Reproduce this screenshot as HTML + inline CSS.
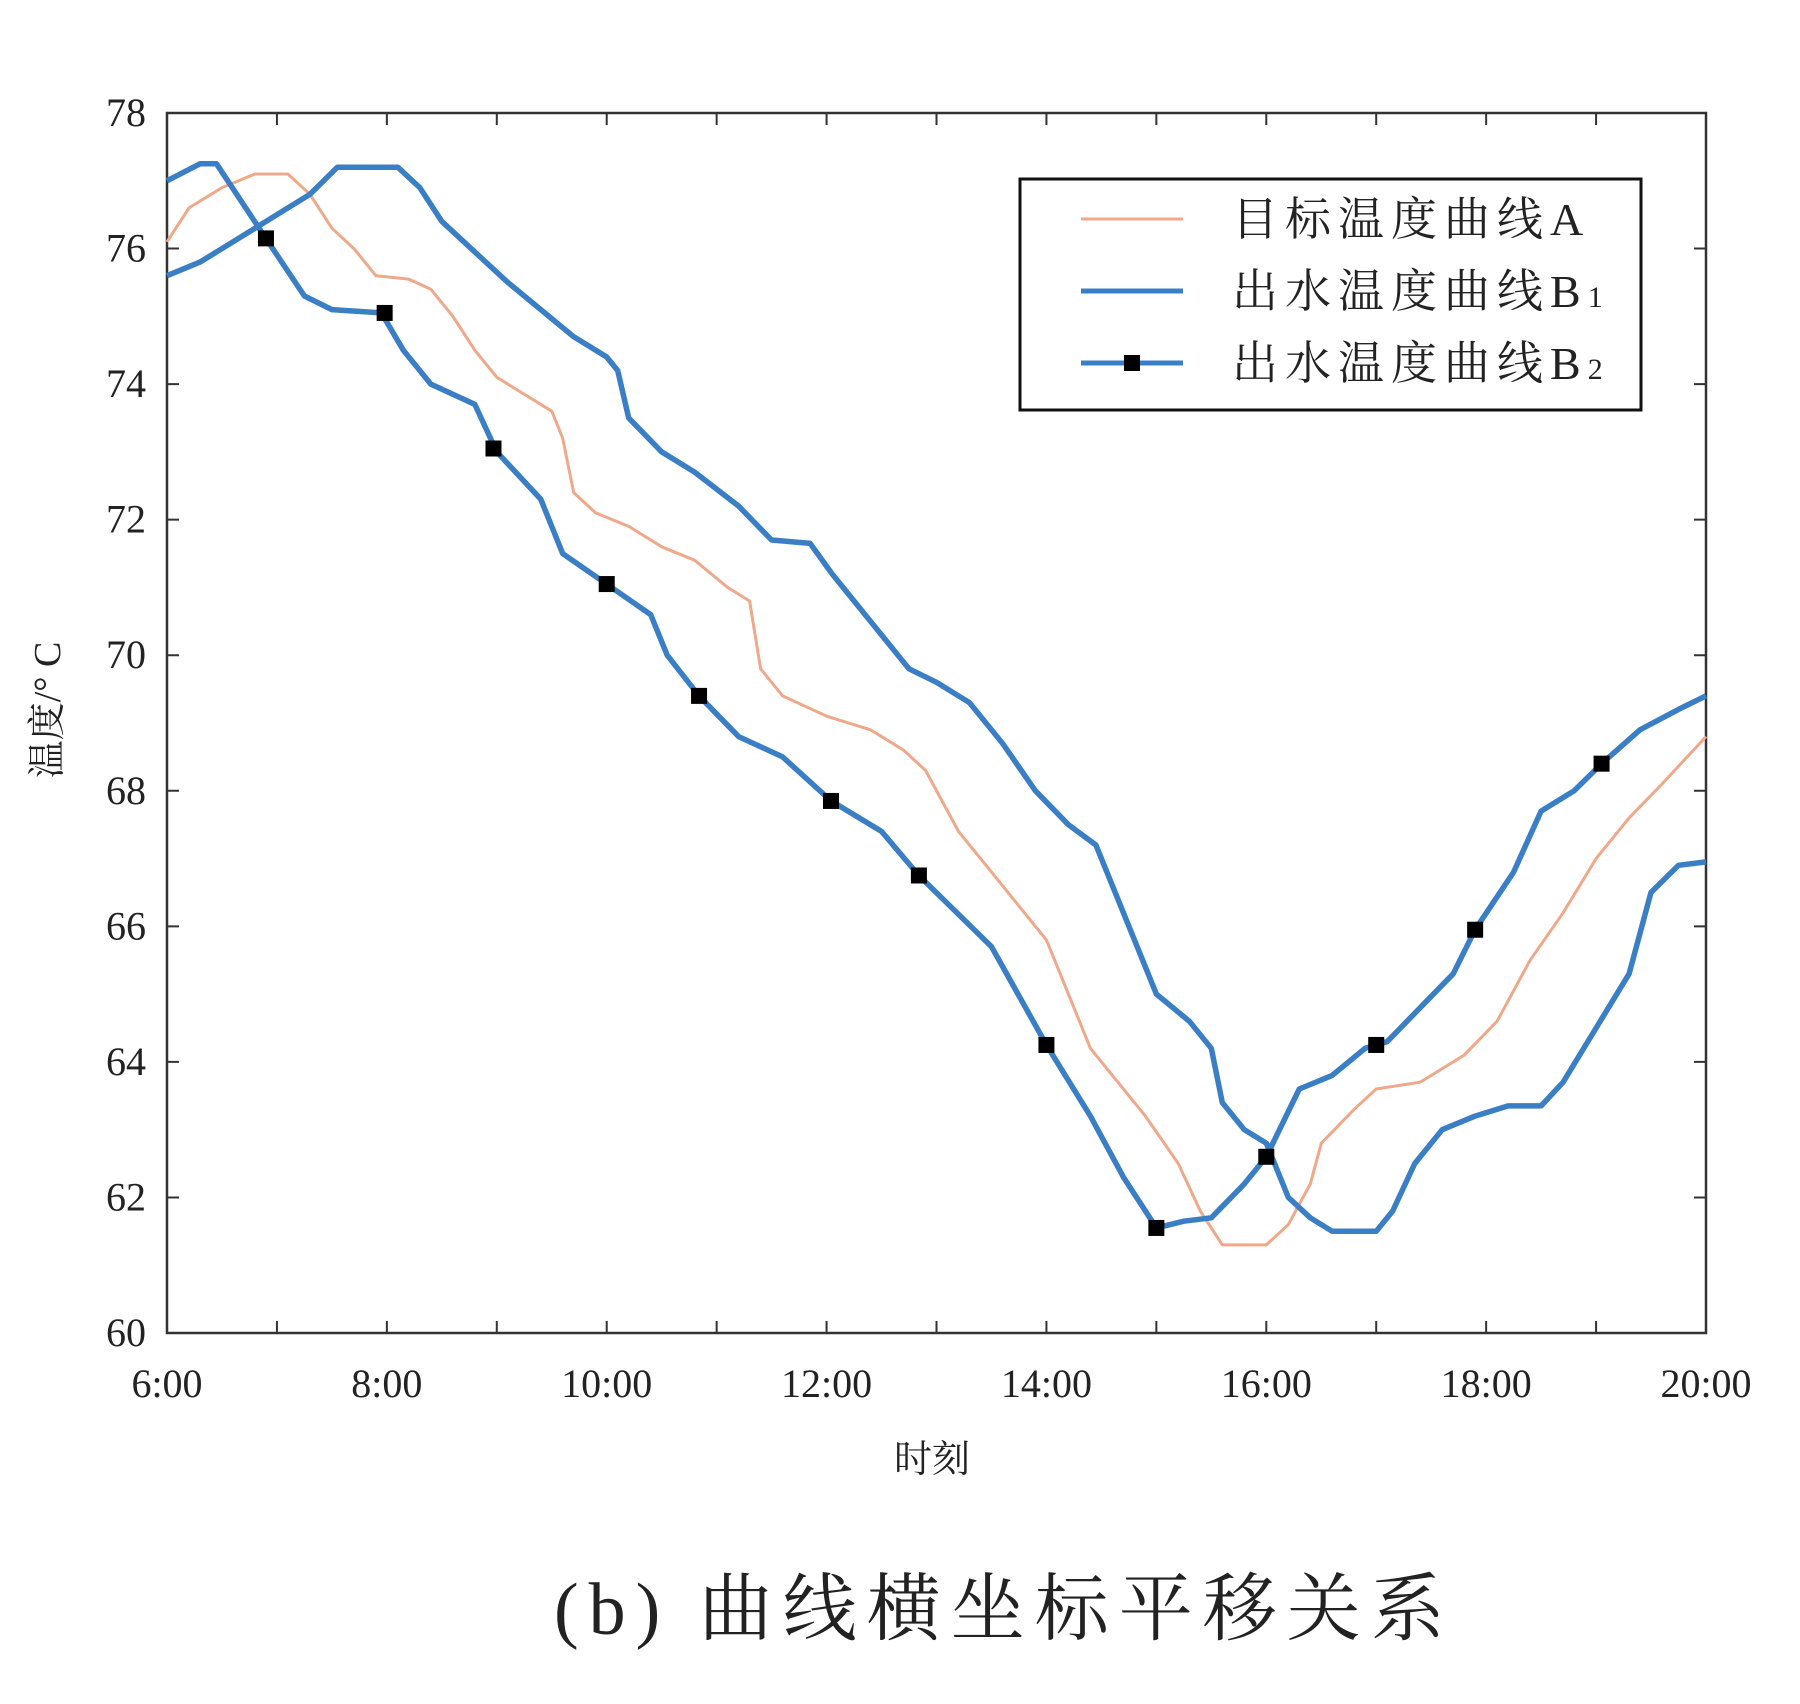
<!DOCTYPE html>
<html><head><meta charset="utf-8"><style>
html,body{margin:0;padding:0;background:#fff;}
svg{display:block;}
text{font-family:"Liberation Serif","Noto Serif CJK SC",serif;fill:#222;}
</style></head><body>
<svg id="chart" width="1800" height="1704" viewBox="0 0 1800 1704">
<g id="axes"></g>
<g id="series"></g>
<rect x="1020" y="179" width="621" height="231" fill="#fff" stroke="#111" stroke-width="3"/>
<g>
<line x1="1081" y1="219" x2="1183" y2="219" stroke="#f0a88a" stroke-width="3"/>
<text x="1232" y="235" font-size="46" letter-spacing="7">目标温度曲线A</text></g>
<g>
<line x1="1081" y1="291" x2="1183" y2="291" stroke="#3a7fc6" stroke-width="5"/>
<text x="1232" y="307" font-size="46" letter-spacing="7">出水温度曲线B<tspan font-size="30">1</tspan></text></g>
<g>
<line x1="1081" y1="363" x2="1183" y2="363" stroke="#3a7fc6" stroke-width="5"/>
<rect x="1124" y="355" width="16" height="16" fill="#000"/>
<text x="1232" y="379" font-size="46" letter-spacing="7">出水温度曲线B<tspan font-size="30">2</tspan></text></g>
<text x="932" y="1472" font-size="38" text-anchor="middle">时刻</text>
<text transform="translate(60,710) rotate(-90)" font-size="38" text-anchor="middle">温度/° C</text>
<text x="554" y="1634" font-size="74" letter-spacing="10">(b)  曲线横坐标平移关系</text>
</svg>
<script>
const xTicks=[6,8,10,12,14,16,18,20];
const xTickLabels=["6:00","8:00","10:00","12:00","14:00","16:00","18:00","20:00"];
const yTicks=[60,62,64,66,68,70,72,74,76,78];
const aX=[6,6.2,6.5,6.8,7.1,7.3,7.5,7.7,7.9,8.2,8.4,8.6,8.8,9.0,9.2,9.5,9.6,9.7,9.9,10.2,10.5,10.8,11.1,11.3,11.4,11.6,12.0,12.4,12.7,12.9,13.2,13.5,13.8,14.0,14.2,14.4,14.6,14.9,15.2,15.4,15.6,16.0,16.2,16.4,16.5,16.8,17.0,17.4,17.8,18.1,18.4,18.7,19.0,19.3,19.6,20];
const aY=[76.1,76.6,76.9,77.1,77.1,76.8,76.3,76.0,75.6,75.55,75.4,75.0,74.5,74.1,73.9,73.6,73.2,72.4,72.1,71.9,71.6,71.4,71.0,70.8,69.8,69.4,69.1,68.9,68.6,68.3,67.4,66.8,66.2,65.8,65.0,64.2,63.8,63.2,62.5,61.8,61.3,61.3,61.6,62.2,62.8,63.3,63.6,63.7,64.1,64.6,65.5,66.2,67.0,67.6,68.1,68.8];
const b1X=[6,6.3,6.6,7.0,7.3,7.55,8.1,8.3,8.5,8.9,9.1,9.4,9.7,10.0,10.1,10.2,10.5,10.8,11.2,11.5,11.85,12.05,12.4,12.75,13.0,13.3,13.6,13.9,14.2,14.45,14.65,15.0,15.3,15.5,15.6,15.8,16.0,16.2,16.4,16.6,17.0,17.15,17.35,17.6,17.9,18.2,18.5,18.7,19.0,19.3,19.5,19.75,20];
const b1Y=[75.6,75.8,76.1,76.5,76.8,77.2,77.2,76.9,76.4,75.8,75.5,75.1,74.7,74.4,74.2,73.5,73.0,72.7,72.2,71.7,71.65,71.2,70.5,69.8,69.6,69.3,68.7,68.0,67.5,67.2,66.4,65.0,64.6,64.2,63.4,63.0,62.8,62.0,61.7,61.5,61.5,61.8,62.5,63.0,63.2,63.35,63.35,63.7,64.5,65.3,66.5,66.9,66.95];
const b2X=[6,6.3,6.45,6.9,7.25,7.5,7.95,8.15,8.4,8.8,9.0,9.4,9.6,10.0,10.4,10.55,10.84,11.2,11.6,12.04,12.5,12.84,13.5,14.0,14.4,14.7,15.0,15.25,15.5,15.8,16.0,16.3,16.6,16.9,17.1,17.4,17.7,17.9,18.25,18.5,18.8,19.05,19.4,19.75,20];
const b2Y=[77.0,77.25,77.25,76.15,75.3,75.1,75.05,74.5,74.0,73.7,73.0,72.3,71.5,71.05,70.6,70.0,69.4,68.8,68.5,67.85,67.4,66.75,65.7,64.25,63.2,62.3,61.55,61.65,61.7,62.2,62.6,63.6,63.8,64.2,64.3,64.8,65.3,65.95,66.8,67.7,68.0,68.4,68.9,69.2,69.4];
const markX=[6.9,7.98,8.97,10.0,10.84,12.04,12.84,14.0,15.0,16.0,17.0,17.9,19.05];
const markY=[76.15,75.05,73.05,71.05,69.4,67.85,66.75,64.25,61.55,62.6,64.25,65.95,68.4];

const L=167,R=1706,T=113,B=1333;
const sx=v=>L+(v-6)/14*(R-L);
const sy=v=>B-(v-60)/18*(B-T);
const NS="http://www.w3.org/2000/svg";
const axes=document.getElementById('axes'),series=document.getElementById('series');
function mk(tag,attrs,parent){const e=document.createElementNS(NS,tag);for(const k in attrs)e.setAttribute(k,attrs[k]);parent.appendChild(e);return e;}
const frame=mk('rect',{x:L,y:T,width:R-L,height:B-T,fill:'none',stroke:'#333','stroke-width':2.5},axes);


for(let h=6;h<=20;h++){
  const t=mk('path',{d:`M${sx(h)},${B}v-12M${sx(h)},${T}v12`,stroke:'#333','stroke-width':2},axes);
  
  
}
xTicks.forEach((v,i)=>{
  const t=mk('text',{x:sx(v),y:1397,'font-size':40,'text-anchor':'middle'},axes);
  t.textContent=xTickLabels[i];
  
  
});
yTicks.forEach(v=>{
  const t=mk('path',{d:`M${L},${sy(v)}h12M${R},${sy(v)}h-12`,stroke:'#333','stroke-width':2},axes);
  
  
  const l=mk('text',{x:146,y:sy(v)+13,'font-size':40,'text-anchor':'end'},axes);
  l.textContent=String(v);
  
  
});
function line(xs,ys,color,w,name){
  const d=xs.map((x,i)=>(i?'L':'M')+sx(x).toFixed(1)+','+sy(ys[i]).toFixed(1)).join('');
  const p=mk('path',{d:d,fill:'none',stroke:color,'stroke-width':w,'stroke-linejoin':'round'},series);
  
  
}
line(aX,aY,'#f0a88a',3,'line-target-a');
line(b1X,b1Y,'#3a7fc6',5.5,'line-outlet-b1');
line(b2X,b2Y,'#3a7fc6',5.5,'line-outlet-b2');
markX.forEach((x,i)=>{
  const r=mk('rect',{x:sx(x)-8,y:sy(markY[i])-8,width:16,height:16,fill:'#000'},series);
  
  
});
</script>
</body></html>
